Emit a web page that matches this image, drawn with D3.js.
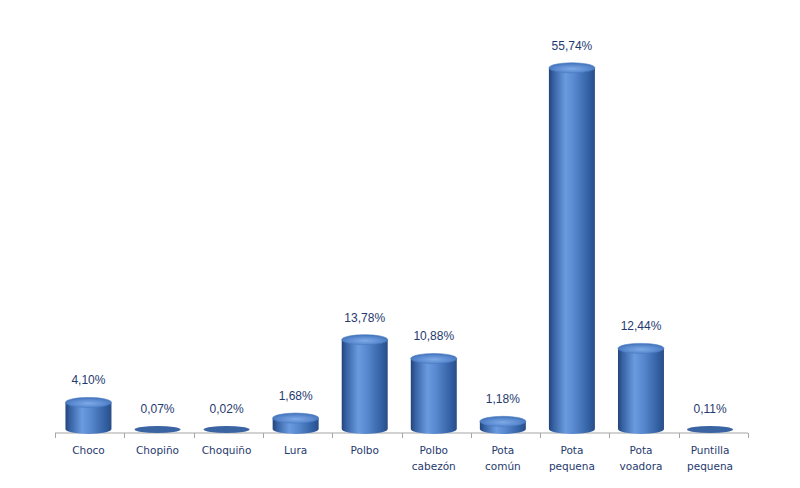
<!DOCTYPE html>
<html><head><meta charset="utf-8">
<script src="https://cdn.jsdelivr.net/npm/d3@7"></script>
<style>body{margin:0;background:#fff}svg{display:block}</style>
</head><body>
<svg id="c" width="800" height="488"></svg>
<script>
const categories = [["Choco"],["Chopiño"],["Choquiño"],["Lura"],["Polbo"],["Polbo","cabezón"],["Pota","común"],["Pota","pequena"],["Pota","voadora"],["Puntilla","pequena"]];
const values = [4.10, 0.07, 0.02, 1.68, 13.78, 10.88, 1.18, 55.74, 12.44, 0.11];
const valueLabels = ["4,10%","0,07%","0,02%","1,68%","13,78%","10,88%","1,18%","55,74%","12,44%","0,11%"];

const svg = d3.select("#c");
const keys = categories.map(c => c.join(" "));
const x = d3.scaleBand().domain(keys).range([55.1, 743.4]).paddingInner(0.334).paddingOuter(0.15);
const y = d3.scaleLinear().domain([0, 60]).range([429, 429 - 60 * 6.48]);

const defs = svg.append("defs");
const bodyGrad = defs.append("linearGradient").attr("id","bodyG").attr("x1","0").attr("x2","1").attr("y1","0").attr("y2","0");
[[0,"#23447a"],[0.1,"#3762a4"],[0.36,"#6a9bdf"],[0.55,"#5888ce"],[0.85,"#3462a6"],[1,"#294d88"]].forEach(([o,c])=>bodyGrad.append("stop").attr("offset",o).attr("stop-color",c));
const topGrad = defs.append("radialGradient").attr("id","topG").attr("cx","0.5").attr("cy","0.6").attr("r","0.6");
[[0,"#7eaae6"],[0.6,"#5b8ad0"],[1,"#3f6fb6"]].forEach(([o,c])=>topGrad.append("stop").attr("offset",o).attr("stop-color",c));

const base = 433;
svg.append("line").attr("x1",55).attr("x2",748).attr("y1",base).attr("y2",base).attr("stroke","#a6a6a6").attr("stroke-width",1.2);
const tickXs = d3.range(keys.length + 1).map(i => 55 + i * (693 / keys.length));
svg.selectAll("line.tick").data(tickXs).enter().append("line")
  .attr("x1",d=>Math.round(d)+0.5).attr("x2",d=>Math.round(d)+0.5).attr("y1",base).attr("y2",base+5)
  .attr("stroke","#a6a6a6");

const ry = 5;
const g = svg.selectAll("g.bar").data(values).enter().append("g");
g.each(function(v, i){
  const sel = d3.select(this);
  const w = x.bandwidth();
  const x0 = x(keys[i]), cx = x0 + w/2, rx = w/2;
  const yb = y(0), yt = y(v);
  const h = yb - yt;
  if (h < 2) {
    sel.append("ellipse").attr("cx",cx).attr("cy",yb+0.5).attr("rx",rx).attr("ry",3.5).attr("fill","#3a64a2");
  } else {
    sel.append("path").attr("d",
      `M${x0},${yt} L${x0},${yb} A${rx},${ry} 0 0 0 ${x0+w},${yb} L${x0+w},${yt} Z`)
      .attr("fill","url(#bodyG)");
    sel.append("ellipse").attr("cx",cx).attr("cy",yt).attr("rx",rx).attr("ry",ry).attr("fill","url(#topG)")
      .attr("stroke","#4a7cc4").attr("stroke-width",0.6);
  }
  const ty = h < 2 ? yb - 16 : yt - ry - 13;
  sel.append("text").attr("x",cx).attr("y",ty).attr("text-anchor","middle")
    .attr("font-family","Liberation Sans, Arial, sans-serif").attr("font-size",12).attr("fill","#1f3a6e")
    .text(valueLabels[i]);
  const t = sel.append("text").attr("text-anchor","middle")
    .attr("font-family","DejaVu Sans, Verdana, sans-serif").attr("font-size",10.5).attr("fill","#1f3a6e");
  categories[i].forEach((line, j) => t.append("tspan").attr("x",cx).attr("y",454 + j*16).text(line));
});
</script>
</body></html>
